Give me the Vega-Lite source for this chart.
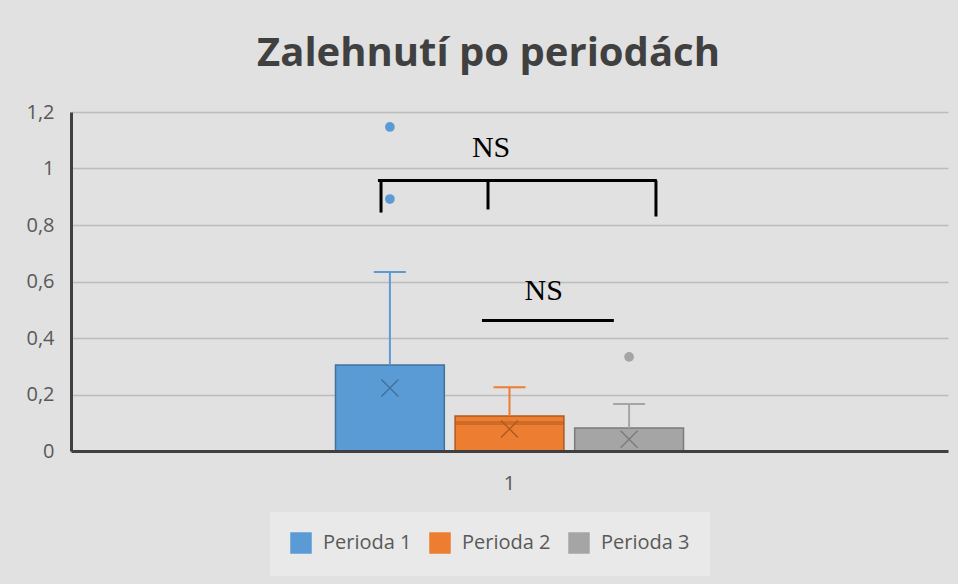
{
  "$schema": "https://vega.github.io/schema/vega-lite/v6.json",
  "width": 877,
  "height": 339,
  "autosize": {"type": "none"},
  "padding": {"left": 71, "top": 112, "right": 10, "bottom": 133},
  "background": "#e1e1e1",
  "title": {
    "text": "Zalehnutí po periodách",
    "anchor": "middle",
    "frame": "group",
    "font": "Open Sans",
    "fontSize": 40,
    "fontWeight": "bold",
    "color": "#404040",
    "offset": 28,
    "dx": -21
  },
  "config": {
    "font": "Open Sans",
    "view": {"stroke": null},
    "axis": {"labelFont": "Open Sans", "labelFontSize": 20, "labelColor": "#595959"}
  },
  "datasets": {
    "boxes": [
      {"group": "1", "period": "Perioda 1", "q1": 0, "q3": 0.304, "median": 0, "mean": 0.223, "upper": 0.634},
      {"group": "1", "period": "Perioda 2", "q1": 0, "q3": 0.124, "median": 0.099, "mean": 0.078, "upper": 0.226},
      {"group": "1", "period": "Perioda 3", "q1": 0, "q3": 0.081, "median": 0, "mean": 0.042, "upper": 0.166}
    ],
    "outliers": [
      {"group": "1", "period": "Perioda 1", "value": 1.147},
      {"group": "1", "period": "Perioda 1", "value": 0.892},
      {"group": "1", "period": "Perioda 3", "value": 0.333}
    ],
    "lines": [
      {"x": 0.350, "x2": 0.668, "y": 0.9575, "y2": 0.9575},
      {"x": 0.3535, "x2": 0.3535, "y": 0.9575, "y2": 0.844},
      {"x": 0.4755, "x2": 0.4755, "y": 0.9575, "y2": 0.855},
      {"x": 0.667, "x2": 0.667, "y": 0.9575, "y2": 0.830},
      {"x": 0.4686, "x2": 0.619, "y": 0.462, "y2": 0.462}
    ],
    "labels": [
      {"text": "NS", "x": 0.479, "y": 1.071},
      {"text": "NS", "x": 0.539, "y": 0.565}
    ]
  },
  "layer": [
    {
      "encoding": {
        "x": {
          "field": "group",
          "type": "nominal",
          "title": null,
          "scale": {"paddingOuter": 0.76, "paddingInner": 0},
          "axis": {"ticks": false, "labelPadding": 22, "labelAngle": 0, "domainColor": "#404040", "domainWidth": 3, "zindex": 1, "grid": false}
        },
        "xOffset": {
          "field": "period",
          "type": "nominal",
          "scale": {"domain": ["Perioda 1", "Perioda 2", "Perioda 3"], "paddingInner": 0.09, "paddingOuter": 0}
        }
      },
      "layer": [
        {
          "data": {"name": "boxes"},
          "mark": {"type": "bar", "strokeWidth": 1.5, "opacity": 1},
          "encoding": {
            "y": {
              "field": "q1",
              "type": "quantitative",
              "title": null,
              "scale": {"domain": [0, 1.2], "nice": false},
              "axis": {
                "values": [0, 0.2, 0.4, 0.6, 0.8, 1, 1.2],
                "labelExpr": "replace(format(datum.value, '.1~f'), '.', ',')",
                "ticks": false,
                "labelPadding": 17,
                "domainColor": "#404040",
                "domainWidth": 3,
                "gridColor": "#bcbcbc",
                "gridWidth": 1.3
              }
            },
            "y2": {"field": "q3"},
            "color": {
              "field": "period",
              "type": "nominal",
              "scale": {"domain": ["Perioda 1", "Perioda 2", "Perioda 3"], "range": ["#5b9bd5", "#ed7d31", "#a5a5a5"]},
              "legend": {
                "orient": "none",
                "legendX": 199,
                "legendY": 400,
                "direction": "horizontal",
                "title": null,
                "symbolType": "square",
                "symbolSize": 400,
                "symbolOpacity": 1,
                "symbolStrokeWidth": 1.5,
                "symbolStrokeColor": "#6b6b6b",
                "labelFont": "Open Sans",
                "labelFontSize": 20,
                "labelColor": "#595959",
                "fillColor": "#e9e9e9",
                "padding": 20,
                "columnPadding": 15,
                "labelOffset": 11
              }
            },
            "stroke": {
              "field": "period",
              "type": "nominal",
              "scale": {"domain": ["Perioda 1", "Perioda 2", "Perioda 3"], "range": ["#41719c", "#ae5a21", "#7b7b7b"]},
              "legend": null
            }
          }
        },
        {
          "data": {"name": "boxes"},
          "mark": {"type": "rule", "strokeWidth": 2},
          "encoding": {
            "y": {"field": "q3", "type": "quantitative", "title": null},
            "y2": {"field": "upper"},
            "color": {"field": "period", "type": "nominal"}
          }
        },
        {
          "data": {"name": "boxes"},
          "mark": {"type": "tick", "orient": "horizontal", "size": 32, "thickness": 2, "opacity": 1},
          "encoding": {
            "y": {"field": "upper", "type": "quantitative", "title": null},
            "color": {"field": "period", "type": "nominal"}
          }
        },
        {
          "data": {"name": "boxes"},
          "transform": [{"filter": "datum.median > 0"}],
          "mark": {"type": "tick", "orient": "horizontal", "size": 108, "thickness": 2, "opacity": 1},
          "encoding": {
            "y": {"field": "median", "type": "quantitative", "title": null},
            "color": {"field": "period", "type": "nominal"},
            "stroke": {"field": "period", "type": "nominal", "legend": null}
          }
        },
        {
          "data": {"name": "boxes"},
          "mark": {"type": "point", "shape": "M-1,-1L1,1M1,-1L-1,1", "size": 289, "filled": false, "strokeWidth": 1.4, "opacity": 1},
          "encoding": {
            "y": {"field": "mean", "type": "quantitative", "title": null},
            "stroke": {"field": "period", "type": "nominal", "legend": null}
          }
        },
        {
          "data": {"name": "outliers"},
          "mark": {"type": "point", "shape": "circle", "size": 95, "filled": true, "opacity": 1},
          "encoding": {
            "y": {"field": "value", "type": "quantitative", "title": null},
            "color": {"field": "period", "type": "nominal"}
          }
        }
      ]
    },
    {
      "layer": [
        {
          "data": {"name": "lines"},
          "mark": {"type": "rule", "strokeWidth": 3, "color": "#000000"},
          "encoding": {
            "x": {"field": "x", "type": "quantitative", "scale": {"domain": [0, 1], "nice": false, "zero": false}, "axis": null},
            "x2": {"field": "x2"},
            "y": {"field": "y", "type": "quantitative", "title": null},
            "y2": {"field": "y2"}
          }
        },
        {
          "data": {"name": "labels"},
          "mark": {"type": "text", "font": "Liberation Serif", "fontSize": 30, "color": "#000000", "baseline": "middle", "align": "center"},
          "encoding": {
            "x": {"field": "x", "type": "quantitative", "axis": null},
            "y": {"field": "y", "type": "quantitative", "title": null},
            "text": {"field": "text"}
          }
        }
      ]
    }
  ],
  "resolve": {"scale": {"x": "independent"}}
}
